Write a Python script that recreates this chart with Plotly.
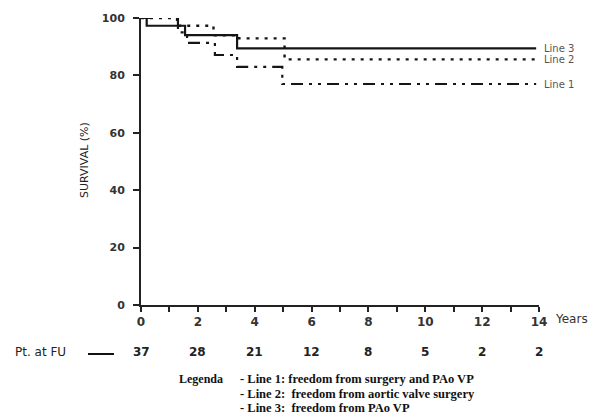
import plotly.graph_objects as go

# --- data ---
t_line1 = [0, 1.3, 1.62, 2.6, 3.38, 4.97, 13.9]
s_line1 = [100, 95.0, 91.3, 87.1, 83.0, 77.0, 77.0]
t_line2 = [0, 1.27, 2.55, 3.45, 5.05, 13.9]
s_line2 = [100, 97.3, 94.0, 92.9, 85.6, 85.6]
t_line3 = [0, 0.2, 1.55, 3.38, 13.9]
s_line3 = [100, 97.3, 94.0, 89.4, 89.4]
line_names = ["Line 1", "Line 2", "Line 3"]
at_risk_years = [0, 2, 4, 6, 8, 10, 12, 14]
at_risk_counts = [37, 28, 21, 12, 8, 5, 2, 2]
legend_lines = [
    "- Line 1: freedom from surgery and PAo VP",
    "- Line 2:  freedom from aortic valve surgery",
    "- Line 3:  freedom from PAo VP",
]

fig = go.Figure()
ink = "#151515"
fig.add_trace(go.Scatter(x=t_line1, y=s_line1, mode="lines", line_shape="hv",
                         line=dict(color=ink, width=2.2, dash="12px,6px,3px,6px,3px,6px"),
                         name=line_names[0], cliponaxis=False))
fig.add_trace(go.Scatter(x=t_line2, y=s_line2, mode="lines", line_shape="hv",
                         line=dict(color=ink, width=2.4, dash="3px,6px"),
                         name=line_names[1], cliponaxis=False))
fig.add_trace(go.Scatter(x=t_line3, y=s_line3, mode="lines", line_shape="hv",
                         line=dict(color=ink, width=2.2),
                         name=line_names[2], cliponaxis=False))

ann = []
# line labels at right ends
for t, s, nm in [(t_line1, s_line1, line_names[0]), (t_line2, s_line2, line_names[1]),
                 (t_line3, s_line3, line_names[2])]:
    ann.append(dict(x=t[-1], y=s[-1], xref="x", yref="y", text=nm, showarrow=False,
                    xanchor="left", yanchor="middle", xshift=6,
                    font=dict(family="DejaVu Sans", size=10, color="#555")))
# Years label
ann.append(dict(x=14, y=0, xref="x", yref="y", text="Years", showarrow=False,
                xanchor="left", yanchor="middle", xshift=14, yshift=-14,
                font=dict(family="DejaVu Sans", size=12, color="#333")))
# y-axis title
ann.append(dict(x=84, y=160, xref="paper", yref="paper", text="SURVIVAL (%)", showarrow=False,
                textangle=-90, xanchor="center", yanchor="middle",
                font=dict(family="DejaVu Sans", size=11, color="#222")))
# at risk row
ann.append(dict(x=13, y=352, xref="paper", yref="paper", text="Pt. at FU", showarrow=False,
                xanchor="left", yanchor="middle",
                font=dict(family="DejaVu Sans", size=12, color="#222")))
for yr, c in zip(at_risk_years, at_risk_counts):
    ann.append(dict(x=yr, y=352, xref="x", yref="paper", text=str(c), showarrow=False,
                    xanchor="center", yanchor="middle",
                    font=dict(family="DejaVu Sans", size=12, color="#222", weight="bold")))
# bottom legend
ann.append(dict(x=177, y=379, xref="paper", yref="paper", text="Legenda", showarrow=False,
                xanchor="left", yanchor="middle",
                font=dict(family="Liberation Serif", size=12, color="#111", weight="bold")))
for i, txt in enumerate(legend_lines):
    ann.append(dict(x=238, y=379 + 14.5 * i, xref="paper", yref="paper", text=txt, showarrow=False,
                    xanchor="left", yanchor="middle",
                    font=dict(family="Liberation Serif", size=12.5, color="#111", weight="bold")))

# convert pixel-based paper positions to paper fractions
W, H = 602, 420
L, R, T, B = 141, 63, 18, 115
pw, ph = W - L - R, H - T - B
for a in ann:
    if a.get("xref") == "paper":
        a["x"] = (a["x"] - L) / pw
    if a.get("yref") == "paper":
        a["y"] = (H - B - a["y"]) / ph

fig.update_layout(
    width=W, height=H,
    margin=dict(l=L, r=R, t=T, b=B),
    paper_bgcolor="white", plot_bgcolor="white",
    showlegend=False,
    annotations=ann,
    shapes=[dict(type="line", xref="paper", yref="paper",
                 x0=(88 - L) / pw, x1=(114 - L) / pw,
                 y0=(H - B - 354) / ph, y1=(H - B - 354) / ph,
                 line=dict(color="#111", width=2))],
    xaxis=dict(range=[0, 14], tickmode="array", tickvals=at_risk_years,
               ticks="outside", ticklen=5, tickwidth=2, tickcolor="#222",
               minor=dict(dtick=1, ticks="outside", ticklen=5, tickwidth=2, tickcolor="#222"),
               showline=True, linecolor="#222", linewidth=2, showgrid=False, zeroline=False,
               tickfont=dict(family="DejaVu Sans", size=12, color="#333", weight="bold")),
    yaxis=dict(range=[0, 100], tickvals=[0, 20, 40, 60, 80, 100],
               ticks="outside", ticklen=6, tickwidth=2, tickcolor="#222",
               ticklabelstandoff=6,
               showline=True, linecolor="#222", linewidth=2, showgrid=False, zeroline=False,
               tickfont=dict(family="DejaVu Sans", size=11, color="#333", weight="bold")),
)

fig.write_html("out.html")
